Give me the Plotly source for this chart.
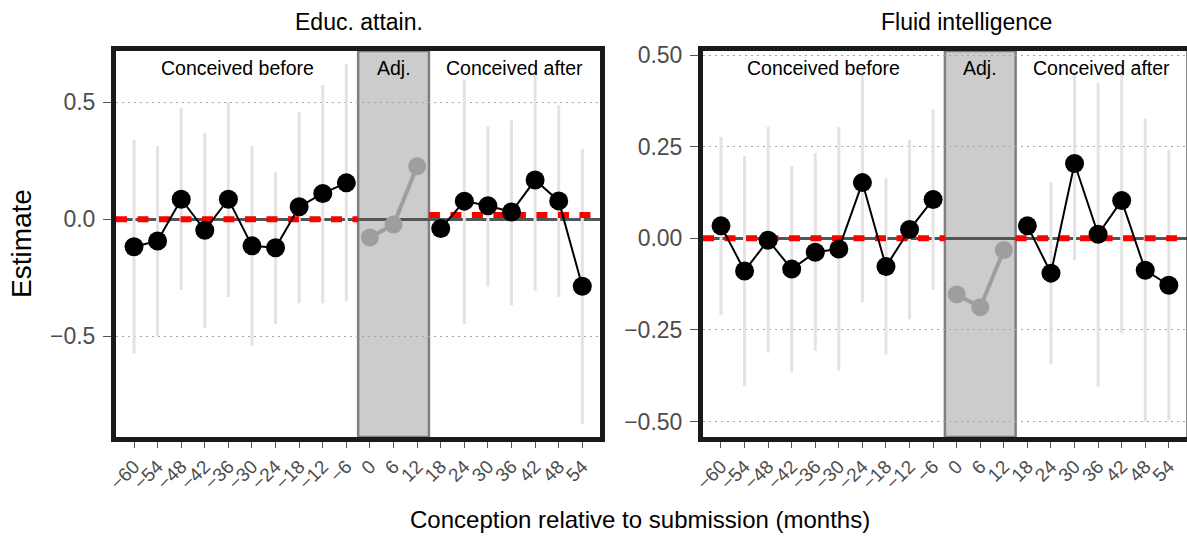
import plotly.graph_objects as go

# ---------------- data ----------------
months = [-60, -54, -48, -42, -36, -30, -24, -18, -12, -6, 0, 6, 12, 18, 24, 30, 36, 42, 48, 54]
month_labels = ["−60", "−54", "−48", "−42", "−36", "−30", "−24", "−18", "−12", "−6",
                "0", "6", "12", "18", "24", "30", "36", "42", "48", "54"]
period = ["before"] * 10 + ["adj"] * 3 + ["after"] * 7

educ_est = [-0.118, -0.093, 0.085, -0.047, 0.085, -0.114, -0.122, 0.053, 0.110, 0.155,
            -0.078, -0.023, 0.226, -0.040, 0.077, 0.057, 0.031, 0.167, 0.078, -0.286]
educ_lo = [-0.574, -0.500, -0.303, -0.464, -0.332, -0.540, -0.447, -0.359, -0.359, -0.350,
           None, None, None, None, -0.447, -0.289, -0.368, -0.306, -0.332, -0.873]
educ_hi = [0.340, 0.312, 0.474, 0.369, 0.500, 0.312, 0.200, 0.459, 0.573, 0.662,
           None, None, None, None, 0.594, 0.395, 0.423, 0.630, 0.487, 0.299]

fluid_est = [0.034, -0.089, -0.005, -0.084, -0.038, -0.029, 0.152, -0.077, 0.024, 0.106,
             -0.153, -0.188, -0.032, 0.034, -0.095, 0.204, 0.011, 0.103, -0.087, -0.128]
fluid_lo = [-0.209, -0.403, -0.312, -0.366, -0.307, -0.361, -0.175, -0.316, -0.221, -0.141,
            None, None, None, None, -0.343, -0.059, -0.405, -0.259, -0.500, -0.497]
fluid_hi = [0.277, 0.224, 0.304, 0.197, 0.233, 0.304, 0.445, 0.164, 0.268, 0.352,
            None, None, None, None, 0.152, 0.445, 0.423, 0.454, 0.327, 0.241]

# mean lines for the before / after periods
educ_means = {"before": 0.0, "after": 0.018}
fluid_means = {"before": 0.0, "after": 0.0}

# period boundaries (months)
region_before = [-64.58, -3]
region_adj = [-3, 15]
region_after = [15, 58.5]
region_names = {"before": "Conceived before", "adj": "Adj.", "after": "Conceived after"}

panel_titles = ["Educ. attain.", "Fluid intelligence"]
educ_ticks = [-0.5, 0.0, 0.5]
educ_ticktext = ["−0.5", "0.0", "0.5"]
fluid_ticks = [-0.5, -0.25, 0.0, 0.25, 0.5]
fluid_ticktext = ["−0.50", "−0.25", "0.00", "0.25", "0.50"]

# ---------------- layout geometry ----------------
W, H = 1187, 537
FONT = "Liberation Sans, Arial, Helvetica, sans-serif"
px = lambda v: v / W
py = lambda v: 1 - v / H
panels = [
    dict(x0=116, x1=600, title_x=359, xa="x", ya="y", est=educ_est, lo=educ_lo, hi=educ_hi,
         means=educ_means, yr=[-0.93, 0.718]),
    dict(x0=703, x1=1186.5, title_x=966, xa="x2", ya="y2", est=fluid_est, lo=fluid_lo,
         hi=fluid_hi, means=fluid_means, yr=[-0.542, 0.511]),
]
top_px, bot_px = 51, 437

fig = go.Figure()
shapes, annotations = [], []

for i, p in enumerate(panels):
    # error bars
    ex, ey = [], []
    for m, lo, hi in zip(months, p["lo"], p["hi"]):
        if lo is None or hi is None:
            continue
        ex += [m, m, None]
        ey += [lo, hi, None]
    fig.add_trace(go.Scatter(x=ex, y=ey, mode="lines", xaxis=p["xa"], yaxis=p["ya"],
                             line=dict(color="#e3e3e3", width=3), hoverinfo="skip",
                             showlegend=False))
    # red dashed mean lines
    for key, reg in (("before", region_before), ("after", region_after)):
        fig.add_trace(go.Scatter(x=reg, y=[p["means"][key]] * 2, mode="lines",
                                 xaxis=p["xa"], yaxis=p["ya"],
                                 line=dict(color="#ff0000", width=6, dash="11px,10.5px"),
                                 hoverinfo="skip", showlegend=False))
    # estimates
    for key in ("before", "adj", "after"):
        xs = [m for m, g in zip(months, period) if g == key]
        ys = [v for v, g in zip(p["est"], period) if g == key]
        if key == "adj":
            col, lw, ms = "#9e9e9e", 4, 18
        else:
            col, lw, ms = "#000000", 2, 19
        fig.add_trace(go.Scatter(x=xs, y=ys, mode="lines+markers", xaxis=p["xa"], yaxis=p["ya"],
                                 line=dict(color=col, width=lw),
                                 marker=dict(color=col, size=ms, line=dict(width=0)),
                                 showlegend=False))
    # adjacent shaded region
    shapes.append(dict(type="rect", xref=p["xa"], yref=p["ya"] + " domain",
                       x0=region_adj[0], x1=region_adj[1], y0=0, y1=1,
                       fillcolor="#cccccc", line=dict(color="#7f7f7f", width=2.5),
                       layer="below"))
    # panel frame
    shapes.append(dict(type="rect", xref="paper", yref="paper",
                       x0=px(p["x0"] - 2.5), x1=px(p["x1"] + 2.5),
                       y0=py(bot_px + 2.5), y1=py(top_px - 2.5),
                       line=dict(color="#1a1a1a", width=5), fillcolor="rgba(0,0,0,0)",
                       layer="above"))
    # strip labels inside panel
    for key, reg in (("before", region_before), ("adj", region_adj), ("after", region_after)):
        annotations.append(dict(text=region_names[key], xref=p["xa"], yref="paper",
                                x=(reg[0] + reg[1]) / 2, y=py(68), showarrow=False,
                                xanchor="center", yanchor="middle",
                                font=dict(family=FONT, size=19.5, color="#000000")))
    # panel title
    annotations.append(dict(text=panel_titles[i], xref="paper", yref="paper",
                            x=px(p["title_x"]), y=py(22), showarrow=False,
                            xanchor="center", yanchor="middle",
                            font=dict(family=FONT, size=23, color="#000000")))

annotations.append(dict(text="Estimate", xref="paper", yref="paper", x=px(22), y=py(244),
                        textangle=-90, showarrow=False, xanchor="center", yanchor="middle",
                        font=dict(family=FONT, size=28, color="#000000")))
annotations.append(dict(text="Conception relative to submission (months)", xref="paper",
                        yref="paper", x=px(640), y=py(519), showarrow=False,
                        xanchor="center", yanchor="middle",
                        font=dict(family=FONT, size=24, color="#000000")))

xcommon = dict(range=[region_before[0], region_after[1]], tickvals=months, ticktext=month_labels,
               tickangle=-45, ticks="outside", ticklen=10, tickwidth=1, tickcolor="#555555",
               showgrid=False, zeroline=False, showline=False,
               tickfont=dict(family=FONT, size=19, color="#4d4d4d"), automargin=False)
ycommon = dict(ticks="outside", ticklen=12, tickwidth=1, tickcolor="#555555",
               showgrid=True, gridcolor="#a6a6a6", gridwidth=1.2, griddash="1.5px,4.5px",
               zeroline=True, zerolinecolor="#555555", zerolinewidth=2.5, showline=False,
               tickfont=dict(family=FONT, size=23, color="#4d4d4d"), automargin=False,
               ticklabelstandoff=3,
               domain=[py(bot_px), py(top_px)])

fig.update_layout(
    width=W, height=H, autosize=False,
    margin=dict(l=0, r=0, t=0, b=0),
    paper_bgcolor="white", plot_bgcolor="white",
    showlegend=False,
    xaxis=dict(domain=[px(116), px(600)], anchor="y", **xcommon),
    xaxis2=dict(domain=[px(703), px(1186.5)], anchor="y2", **xcommon),
    yaxis=dict(anchor="x", range=panels[0]["yr"], tickvals=educ_ticks, ticktext=educ_ticktext,
               **ycommon),
    yaxis2=dict(anchor="x2", range=panels[1]["yr"], tickvals=fluid_ticks,
                ticktext=fluid_ticktext, **ycommon),
    shapes=shapes,
    annotations=annotations,
)

fig.write_html(
    "out.html",
    config={"displayModeBar": False},
    post_script="document.body.style.margin='0px';document.body.style.overflow='hidden';",
)
